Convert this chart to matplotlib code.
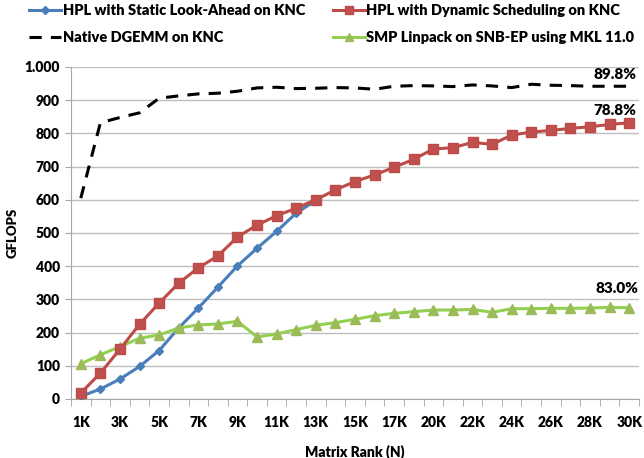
import numpy as np
import matplotlib.pyplot as plt
from matplotlib.ticker import FuncFormatter

# Matrix sizes (x categories)
sizes = ["1K", "2K", "3K", "4K", "5K", "6K", "7K", "8K", "9K", "10K",
         "11K", "12K", "13K", "14K", "15K", "16K", "17K", "18K", "20K", "21K",
         "22K", "23K", "24K", "25K", "26K", "27K", "28K", "29K", "30K"]

# GFLOPS per series
static_lookahead = [8, 30, 60, 98, 146, 214, 274, 337, 401, 454, 505, 560, 598]
dynamic_sched = [18, 78, 150, 225, 289, 349, 395, 431, 488, 524, 552, 575, 600,
                 630, 655, 675, 698, 722, 753, 757, 773, 767, 795, 804, 809,
                 815, 820, 827, 832]
native_dgemm = [605, 832, 848, 862, 906, 913, 919, 921, 927, 937, 939, 935, 936,
                938, 937, 933, 942, 944, 943, 941, 946, 943, 938, 948, 945,
                944, 942, 942, 942]
smp_linpack = [106, 133, 158, 183, 193, 214, 223, 226, 234, 187, 196, 209, 222,
               230, 240, 251, 258, 263, 268, 268, 270, 261, 272, 272, 273,
               273, 274, 276, 275]

labels_end = {"dgemm": "89.8%", "dyn": "78.8%", "smp": "83.0%"}

plt.rcParams['font.family'] = ['Lato', 'DejaVu Sans']
plt.rcParams['font.weight'] = 'heavy'
W = 'heavy'

fig = plt.figure(figsize=(6.44, 4.58), dpi=100)
ax = fig.add_axes([71 / 644, 59 / 458, 568 / 644, 332 / 458])

x = np.arange(len(sizes))
ax.plot(x[:len(static_lookahead)], static_lookahead, color='#4A7EBB', lw=2.2,
        marker='D', ms=4.5, mfc='#4A7EBB', mec='#4A7EBB',
        label="HPL with Static Look-Ahead on KNC", zorder=3)
ax.plot(x, dynamic_sched, color='#BE4B48', lw=2.2, marker='s', ms=7,
        mfc='#C0504D', mec='#BE4B48',
        label="HPL with Dynamic Scheduling on KNC", zorder=4)
ax.plot(x, native_dgemm, color='black', lw=2.2, ls=(0, (4, 3)),
        label="Native DGEMM on KNC", zorder=3)
ax.plot(x, smp_linpack, color='#92D050', lw=2.2, marker='^', ms=7.5,
        mfc='#9BBB59', mec='#9BBB59',
        label="SMP Linpack on SNB-EP using MKL 11.0", zorder=3)

ax.set_xlim(-0.5, len(sizes) - 0.5)
ax.set_ylim(0, 1000)
ax.set_yticks(np.arange(0, 1001, 100))
ax.yaxis.set_major_formatter(FuncFormatter(
    lambda v, p: "1.000" if v >= 1000 else f"{int(v)}"))
ax.grid(axis='y', color='#BFBFBF', lw=1.0)
ax.set_axisbelow(True)

ax.set_xticks(x[::2])
ax.set_xticklabels(sizes[::2])
ax.set_xticks(np.arange(-0.5, len(sizes)), minor=True)
ax.tick_params(axis='x', which='major', length=0, pad=12, labelsize=10)
ax.tick_params(axis='x', which='minor', length=5, color='#A6A6A6', direction='out')
ax.tick_params(axis='y', length=4, color='#A6A6A6', labelsize=10, pad=4)

for s in ['top', 'right']:
    ax.spines[s].set_visible(False)
for s in ['left', 'bottom']:
    ax.spines[s].set_color('#A6A6A6')

ax.set_xlabel("Matrix Rank (N)", fontsize=10, fontweight=W, labelpad=11)
ax.set_ylabel("GFLOPS", fontsize=9.5, fontweight=W, labelpad=4)

ax.text(28.35, 976, labels_end["dgemm"], ha='right', va='center',
        fontsize=11, fontweight=W)
ax.text(28.35, 870, labels_end["dyn"], ha='right', va='center',
        fontsize=11, fontweight=W)
ax.text(28.45, 334, labels_end["smp"], ha='right', va='center',
        fontsize=11, fontweight=W)

handles, labs = ax.get_legend_handles_labels()
order = [0, 2, 1, 3]
fig.legend([handles[i] for i in order], [labs[i] for i in order],
           loc='upper left', bbox_to_anchor=(0.025, 1.02), ncol=2, frameon=False,
           prop={'size': 10.5, 'weight': W}, handlelength=2.2, handletextpad=0.1,
           columnspacing=1.9, labelspacing=0.95, markerscale=0.8)

fig.savefig("out.png", dpi=100)
